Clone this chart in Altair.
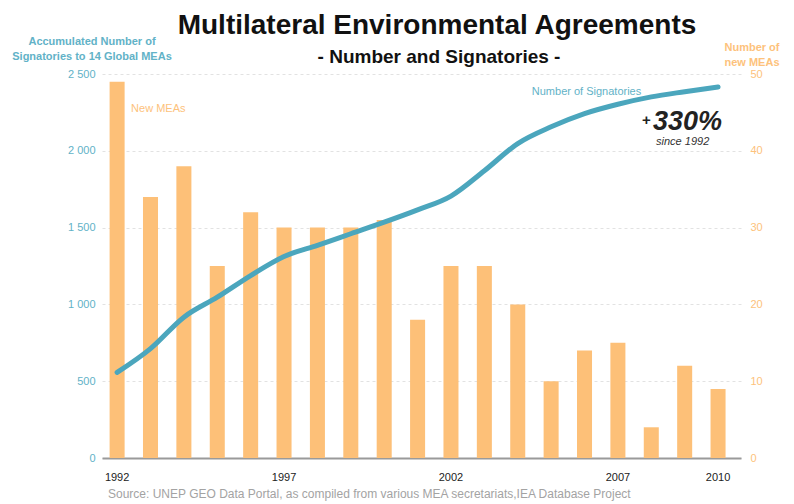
import altair as alt
import pandas as pd

# ---- data ----
years = list(range(1992, 2011))
new_meas = [49, 34, 38, 25, 32, 30, 30, 30, 31, 18, 25, 25, 20, 10, 14, 15, 4, 12, 9]
signatories = [557, 712, 917, 1047, 1188, 1312, 1385, 1460, 1535, 1615,
               1705, 1870, 2047, 2156, 2242, 2303, 2351, 2385, 2416]
x_ticks = [1992, 1997, 2002, 2007, 2010]
left_ticks = [0, 500, 1000, 1500, 2000, 2500]
right_ticks = [0, 10, 20, 30, 40, 50]

TEAL = "#4ba6bd"
TEAL_TXT = "#62b2c7"
ORANGE = "#fdc078"
ORANGE_TXT = "#fdc27c"
FONT = "Liberation Sans"

df = pd.DataFrame({"year": years, "new": new_meas, "sig": signatories})

x_scale = alt.Scale(paddingInner=0.55, paddingOuter=0.345, align=0.33)
x_axis = alt.Axis(values=x_ticks, title=None, labelAngle=0, labelFontSize=11,
                  labelColor="#222222", labelPadding=13, ticks=False,
                  domain=True, domainColor="#9a9a9a", domainWidth=2, grid=False, labelFont=FONT)

r_scale = alt.Scale(domain=[0, 50], nice=False)
r_axis = alt.Axis(orient="right", values=right_ticks, title=None, grid=False,
                  domain=False, ticks=False, labelColor=ORANGE_TXT,
                  labelPadding=9, labelFontSize=11, labelFont=FONT)

l_scale = alt.Scale(domain=[0, 2500], nice=False)
l_axis = alt.Axis(orient="left", values=left_ticks, title=None, grid=True,
                  gridDash=[3, 3], gridColor="#e2e2e2", domain=False, ticks=False,
                  labelColor=TEAL_TXT, labelPadding=7, labelFontSize=11, labelFont=FONT,
                  labelExpr="replace(format(datum.value, ','), ',', ' ')")


def X():
    return alt.X("year:O", scale=x_scale, axis=x_axis)


def YR():
    return alt.Y("new:Q", scale=r_scale, axis=r_axis)


def YL():
    return alt.Y("sig:Q", scale=l_scale, axis=l_axis)


bars = alt.Chart(df).mark_bar(color=ORANGE).encode(x=X(), y=YR())

new_lbl = alt.Chart(pd.DataFrame({"year": [1992], "new": [45], "t": ["New MEAs"]})).mark_text(
    align="left", baseline="alphabetic", dx=14, fontSize=11, color=ORANGE_TXT, font=FONT
).encode(x=X(), y=YR(), text="t:N")

line = alt.Chart(df).mark_line(color=TEAL, strokeWidth=5, interpolate="monotone",
                               strokeCap="round").encode(x=X(), y=YL())

sig_lbl = alt.Chart(pd.DataFrame({"year": [2006], "sig": [2363], "t": ["Number of Signatories"]})).mark_text(
    align="center", baseline="alphabetic", dx=2, fontSize=11, color=TEAL_TXT, font=FONT
).encode(x=X(), y=YL(), text="t:N")

pct_lbl = alt.Chart(pd.DataFrame({"year": [2010], "sig": [2135], "t": ["330%"]})).mark_text(
    align="right", baseline="alphabetic", dx=4, fontSize=27, fontWeight="bold",
    fontStyle="italic", color="#222222", font=FONT
).encode(x=X(), y=YL(), text="t:N")

plus_lbl = alt.Chart(pd.DataFrame({"year": [2008], "sig": [2165], "t": ["+"]})).mark_text(
    align="center", baseline="alphabetic", dx=-5, fontSize=15, fontWeight="bold",
    color="#222222", font=FONT
).encode(x=X(), y=YL(), text="t:N")

since_lbl = alt.Chart(pd.DataFrame({"year": [2009], "sig": [2040], "t": ["since 1992"]})).mark_text(
    align="center", baseline="alphabetic", dx=-2, fontSize=11, fontStyle="italic",
    color="#333333", font=FONT
).encode(x=X(), y=YL(), text="t:N")

one = pd.DataFrame({"k": [0]})


def ptext(txt, x, y, **kw):
    return alt.Chart(one).mark_text(baseline="alphabetic", font=FONT, lineBreak="\n", **kw).encode(
        x=alt.value(x), y=alt.value(y), text=alt.value(txt))


title = ptext("Multilateral Environmental Agreements", 335, -40, align="center",
              fontSize=28, fontWeight="bold", color="#111111")
subtitle = ptext("- Number and Signatories -", 337, -11, align="center",
                 fontSize=19, fontWeight="bold", color="#111111")
left_title = ptext("Accumulated Number of\nSignatories to 14 Global MEAs", -10, -29,
                   align="center", fontSize=11, fontWeight="bold", color=TEAL_TXT, lineHeight=15)
right_title = ptext("Number of\nnew MEAs", 650, -23, align="center", fontSize=11,
                    fontWeight="bold", color=ORANGE_TXT, lineHeight=15)
source = ptext("Source: UNEP GEO Data Portal, as compiled from various MEA secretariats,IEA Database Project",
               6, 424, align="left", fontSize=12, color="#a3a3a3")

chart = alt.layer(
    alt.layer(bars, new_lbl),
    alt.layer(line, sig_lbl, pct_lbl, plus_lbl, since_lbl),
    title, subtitle, left_title, right_title, source,
).resolve_scale(y="independent").properties(
    width=639, height=384,
    autosize=alt.AutoSizeParams(type="none"),
    padding={"left": 94, "top": 66, "right": 45, "bottom": 44},
).configure(font=FONT).configure_view(strokeWidth=0, stroke="transparent").configure_axisY(
    domain=False, ticks=False
)

chart.save("out.html", embed_options={"renderer": "svg", "actions": False})
